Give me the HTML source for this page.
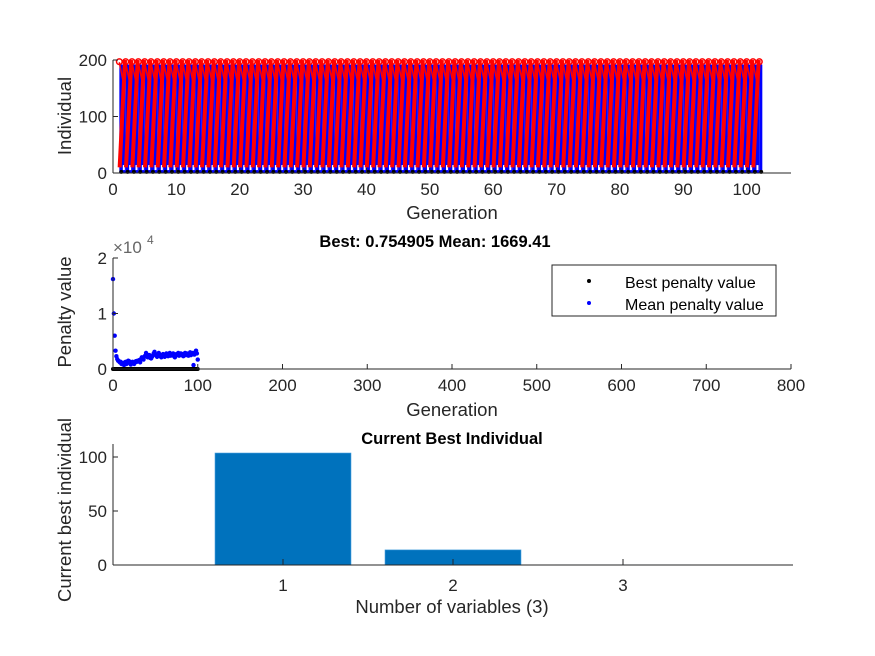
<!DOCTYPE html>
<html><head><meta charset="utf-8"><style>
html,body{margin:0;padding:0;background:#fff;width:875px;height:656px;overflow:hidden}
svg{font-family:"Liberation Sans",Arial,sans-serif}
</style></head><body>
<svg id="fig" width="875" height="656" viewBox="0 0 875 656">
<rect width="875" height="656" fill="#fff"/>
<g id="top"></g>
<g id="mid"></g>
<g id="bot"></g>
</svg>
<script>
// ---- data ----
const generations = Array.from({length:102},(_, i)=>i+1);
const topXTicks = [0,10,20,30,40,50,60,70,80,90,100];
const topYTicks = [0,100,200];
const meanPenalty = [16200,10000,6000,3300,2300,1800,1500,1400,1200,1300,900,1100,1000,700,1200,1300,900,1100,1500,1400,1200,800,1000,1300,1100,900,1200,1400,1300,1500,1400,1600,1200,1800,2100,2000,1700,2200,2400,2900,2600,2100,2300,2500,2000,1900,2200,2400,2800,3100,2700,2500,2200,2400,2900,2600,2300,2100,2500,2700,2400,2200,2600,2800,2500,2300,2700,2900,2400,2600,2500,2800,2300,2100,2600,2700,2500,2900,2400,2600,2800,2500,2700,2300,2600,2900,2500,2800,2600,2400,2700,3000,2500,2800,2900,700,2600,3000,3300,2800,1700];
const bestPenalty = meanPenalty.map(()=>1);
const midXTicks = [0,100,200,300,400,500,600,700,800];
const midYTicks = [0,1,2];
const varCategories = [1,2,3];
const bestIndividual = [103.7,14,0.2];
const botYTicks = [0,50,100];

const NS="http://www.w3.org/2000/svg";
function mk(parent,tag,attrs,name,text){const e=document.createElementNS(NS,tag);for(const k in attrs)e.setAttribute(k,attrs[k]);


if(text!==undefined)e.textContent=text;parent.appendChild(e);return e;}
const C='#262626';
const TF=17, LF=18.5, HF=16.5;

// ---- top plot ----
(function(){
const g=document.getElementById('top');
const L=113,R=791,T=60,B=173;
const x=v=>L+(v-0)/107*(R-L), y=v=>B-v/200*(B-T);
const last=generations[generations.length-1];
generations.forEach(gen=>{
  const w = gen<last ? x(gen+1)-x(gen) : 3;
  mk(g,'rect',{x:x(gen),y:y(192),width:w,height:y(0)-y(192),fill:'#0000ff'},'blue-band');
});
generations.forEach(gen=>{
  if(gen<last){
    mk(g,'line',{x1:x(gen+0.05),y1:y(10),x2:x(gen+0.9),y2:y(200),stroke:'#ff0000','stroke-width':4},'red-lineage');
    mk(g,'line',{x1:x(gen+0.3),y1:y(60),x2:x(gen+1.0),y2:y(195),stroke:'#ff0000','stroke-width':1.5},'red-lineage-2');
    mk(g,'line',{x1:x(gen),y1:y(196),x2:x(gen+0.8),y2:y(150),stroke:'#ff0000','stroke-width':1.5},'red-lineage-top');
  }
  mk(g,'circle',{cx:x(gen),cy:y(197),r:2.8,fill:'none',stroke:'#ff0000','stroke-width':1.5},'red-marker');
  mk(g,'circle',{cx:x(gen+0.3),cy:y(2),r:2,fill:'#000'},'black-marker');
  mk(g,'rect',{x:x(gen+0.55),y:y(14),width:2,height:5,fill:'#fff'},'gap');
});
mk(g,'line',{x1:L,y1:B,x2:R,y2:B,stroke:C},'x-axis');
mk(g,'line',{x1:L,y1:T,x2:L,y2:B,stroke:C},'y-axis');
topXTicks.forEach(t=>{mk(g,'line',{x1:x(t),y1:B,x2:x(t),y2:B-5,stroke:C},'x-tick');
 mk(g,'text',{x:x(t),y:B+22,'text-anchor':'middle','font-size':TF,fill:C},'x-tick-label',t);});
topYTicks.forEach(t=>{mk(g,'line',{x1:L,y1:y(t),x2:L+5,y2:y(t),stroke:C},'y-tick');
 mk(g,'text',{x:L-6,y:y(t)+6,'text-anchor':'end','font-size':TF,fill:C},'y-tick-label',t);});
mk(g,'text',{x:452,y:219,'text-anchor':'middle','font-size':LF,fill:C},'x-axis-title','Generation');
mk(g,'text',{x:71,y:116,'text-anchor':'middle','font-size':LF,fill:C,transform:'rotate(-90 71 116)'},'y-axis-title','Individual');
})();

// ---- middle plot ----
(function(){
const g=document.getElementById('mid');
const L=113,R=791,T=258,B=369;
const x=v=>L+v/800*(R-L), y=v=>B-v/20000*(B-T);
meanPenalty.forEach((v,i)=>mk(g,'circle',{cx:x(i),cy:y(v),r:2.2,fill:'#0000ff'},'mean-point'));
bestPenalty.forEach((v,i)=>mk(g,'circle',{cx:x(i),cy:y(v),r:2,fill:'#000'},'best-point'));
mk(g,'line',{x1:L,y1:B,x2:R,y2:B,stroke:C},'x-axis');
mk(g,'line',{x1:L,y1:T,x2:L,y2:B,stroke:C},'y-axis');
midXTicks.forEach(t=>{mk(g,'line',{x1:x(t),y1:B,x2:x(t),y2:B-5,stroke:C},'x-tick');
 mk(g,'text',{x:x(t),y:B+22,'text-anchor':'middle','font-size':TF,fill:C},'x-tick-label',t);});
midYTicks.forEach(t=>{mk(g,'line',{x1:L,y1:y(t*10000),x2:L+5,y2:y(t*10000),stroke:C},'y-tick');
 mk(g,'text',{x:L-6,y:y(t*10000)+6,'text-anchor':'end','font-size':TF,fill:C},'y-tick-label',t);});
mk(g,'text',{x:113,y:253,'font-size':17,fill:'#666'},'y-exponent','×10');
mk(g,'text',{x:147,y:244,'font-size':12,fill:'#666'},'y-exponent-power','4');
mk(g,'text',{x:452,y:416,'text-anchor':'middle','font-size':LF,fill:C},'x-axis-title','Generation');
mk(g,'text',{x:71,y:312,'text-anchor':'middle','font-size':LF,fill:C,transform:'rotate(-90 71 312)'},'y-axis-title','Penalty value');
mk(g,'text',{x:435,y:247,'text-anchor':'middle','font-size':HF,'font-weight':'bold',fill:'#000'},'chart-title','Best: 0.754905 Mean: 1669.41');
const lg=mk(g,'g',{},'legend');
mk(lg,'rect',{x:552,y:265,width:224,height:51,fill:'#fff',stroke:'#262626'},'legend-box');
mk(lg,'circle',{cx:589,cy:281,r:2,fill:'#000'},'legend-best-marker');
mk(lg,'text',{x:625,y:288,'font-size':16,fill:'#000'},'legend-best-label','Best penalty value');
mk(lg,'circle',{cx:589,cy:303,r:2,fill:'#0000ff'},'legend-mean-marker');
mk(lg,'text',{x:625,y:310,'font-size':16,fill:'#000'},'legend-mean-label','Mean penalty value');
})();

// ---- bottom plot ----
(function(){
const g=document.getElementById('bot');
const L=113,R=793,B=565;
const x=v=>L+v/4*(R-L), y=v=>B-v*1.08;
varCategories.forEach((c,i)=>{const v=bestIndividual[i];
 mk(g,'rect',{x:x(c-0.4),y:y(v),width:x(c+0.4)-x(c-0.4),height:B-y(v),fill:'#0072bd',stroke:'#4fa3e0','stroke-width':0.6},'bar-var-'+c);});
mk(g,'line',{x1:L,y1:B,x2:R,y2:B,stroke:C},'x-axis');
mk(g,'line',{x1:L,y1:444,x2:L,y2:B,stroke:C},'y-axis');
varCategories.forEach(t=>{mk(g,'line',{x1:x(t),y1:B,x2:x(t),y2:B-6,stroke:C},'x-tick');
 mk(g,'text',{x:x(t),y:B+26,'text-anchor':'middle','font-size':TF,fill:C},'x-tick-label',t);});
botYTicks.forEach(t=>{mk(g,'line',{x1:L,y1:y(t),x2:L+5,y2:y(t),stroke:C},'y-tick');
 mk(g,'text',{x:L-6,y:y(t)+6,'text-anchor':'end','font-size':TF,fill:C},'y-tick-label',t);});
mk(g,'text',{x:452,y:613,'text-anchor':'middle','font-size':LF,fill:C},'x-axis-title','Number of variables (3)');
mk(g,'text',{x:71,y:510,'text-anchor':'middle','font-size':LF,fill:C,transform:'rotate(-90 71 510)'},'y-axis-title','Current best individual');
mk(g,'text',{x:452,y:444,'text-anchor':'middle','font-size':HF,'font-weight':'bold',fill:'#000'},'chart-title','Current Best Individual');
})();
</script>
</body></html>
